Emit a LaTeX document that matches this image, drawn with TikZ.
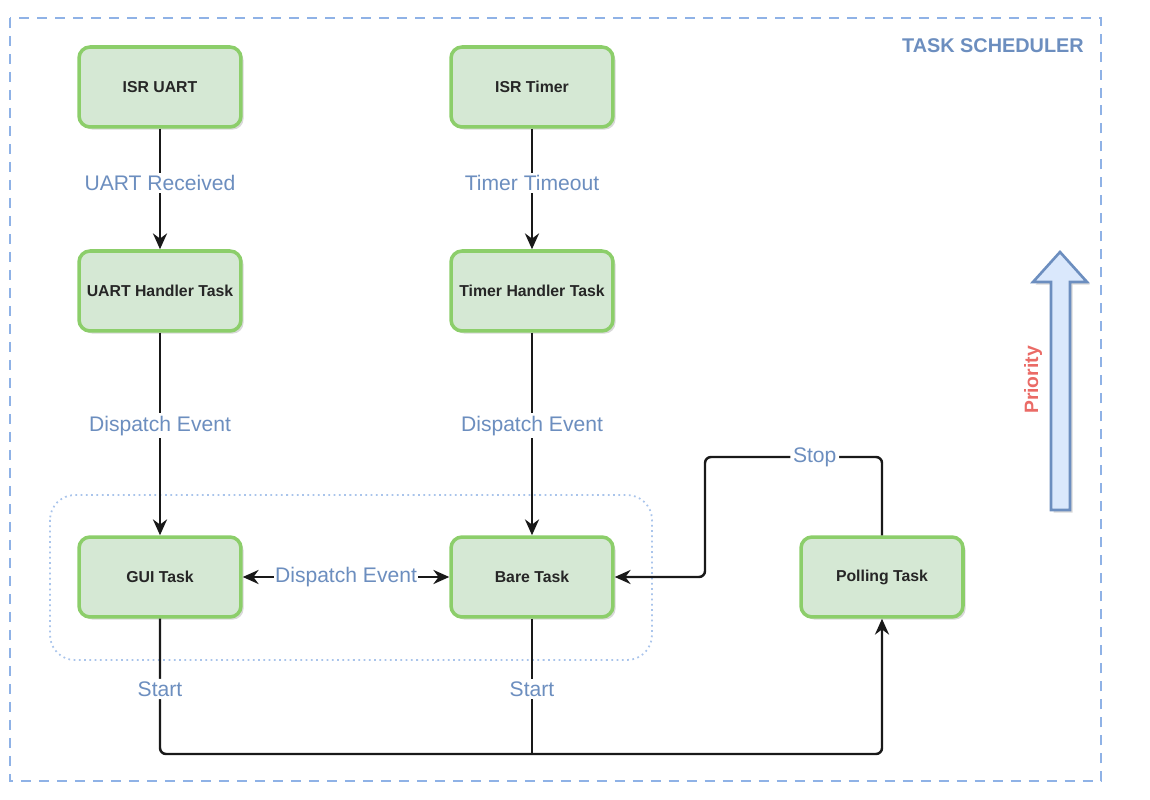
\documentclass[tikz,border=0pt]{standalone}
\usepackage{fontspec}
\setmainfont{Liberation Sans}
\usetikzlibrary{arrows.meta,shadows}
\definecolor{taskfill}{HTML}{D5E8D4}
\definecolor{taskline}{HTML}{8CCE6A}
\definecolor{schedline}{HTML}{8FB2E6}
\definecolor{grouplineb}{HTML}{A9C4EB}
\definecolor{labelblue}{HTML}{6C8EBF}
\definecolor{prioline}{HTML}{6C8EBF}
\definecolor{priofill}{HTML}{DAE8FC}
\definecolor{priotext}{HTML}{EA6B66}
\tikzset{
  task/.style={draw=taskline, fill=taskfill, line width=2pt, rounded corners=0.22cm,
    minimum width=3.24cm, minimum height=1.6cm, font=\fontsize{9}{11}\selectfont\bfseries,
    text=black!85, drop shadow={shadow xshift=1.5pt, shadow yshift=-1.5pt, opacity=0.3}},
  tip/.style={Stealth[length=9pt,width=8pt]},
  conn/.style={line width=1.4pt, black!90, -{Stealth[length=9pt,width=8pt]}},
  plain/.style={line width=1.4pt, black!90},
  lbl/.style={fill=white, inner sep=1.5pt, text=labelblue, font=\fontsize{12}{14}\selectfont},
}
\begin{document}
\begin{tikzpicture}[x=0.02cm, y=-0.02cm]
\useasboundingbox (0,0) rectangle (1150,800);

% scheduler frame
\draw[schedline, line width=1.6pt, dash pattern=on 0.2cm off 0.16cm] (10,18) rectangle (1101,781);
\node[anchor=east, text=labelblue, font=\fontsize{11.3}{13}\selectfont\bfseries] (title) at (1090,46) {TASK SCHEDULER};

% group of cooperating tasks
\draw[grouplineb, line width=1pt, dotted, rounded corners=0.5cm] (50,495) rectangle (652,660);

% tasks
\node[task] (isru) at (160,87) {ISR UART};
\node[task] (isrt) at (532,87) {ISR Timer};
\node[task] (uarth) at (160,291) {UART Handler Task};
\node[task] (timerh) at (532,291) {Timer Handler Task};
\node[task] (gui) at (160,577) {GUI Task};
\node[task] (bare) at (532,577) {Bare Task};
\node[task] (poll) at (882,577) {Polling Task};

% event flow
\draw[conn] (isru) -- node[lbl, pos=0.45] {UART Received} (uarth);
\draw[conn] (isrt) -- node[lbl, pos=0.45] {Timer Timeout} (timerh);
\draw[conn] (uarth) -- node[lbl, pos=0.46] {Dispatch Event} (gui);
\draw[conn] (timerh) -- node[lbl, pos=0.46] {Dispatch Event} (bare);
\draw[plain, {Stealth[length=9pt,width=8pt]}-{Stealth[length=9pt,width=8pt]}]
  (gui) -- node[lbl, inner sep=0.5pt] {Dispatch Event} (bare);

% stop path from polling task
\coordinate (stopr) at (882,457);
\coordinate (stopl) at (705,457);
\coordinate (stopd) at (705,577);
\draw[conn, rounded corners=0.12cm] (poll.north) -- (stopr) -- node[lbl, pos=0.38] {Stop} (stopl) -- (stopd) -- (bare.east);

% start paths to polling task
\coordinate (bl) at (160,754);
\coordinate (bm) at (532,754);
\coordinate (br) at (882,754);
\draw[conn, rounded corners=0.12cm] (gui.south) -- node[lbl, pos=0.52] {Start} (bl) -- (br) -- (poll.south);
\draw[plain] (bare.south) -- node[lbl, pos=0.52] {Start} (bm);

% priority arrow
\draw[prioline, fill=priofill, line width=1.5pt, line join=miter,
  drop shadow={shadow xshift=1.5pt, shadow yshift=-1.5pt, opacity=0.3}]
  (1051,510) -- (1051,282) -- (1033,282) -- (1060,252) -- (1087,282) -- (1070,282) -- (1070,510) -- cycle;
\node[rotate=90, text=priotext, font=\fontsize{11}{13}\selectfont\bfseries] (prio) at (1033,380) {Priority};
\end{tikzpicture}
\end{document}
